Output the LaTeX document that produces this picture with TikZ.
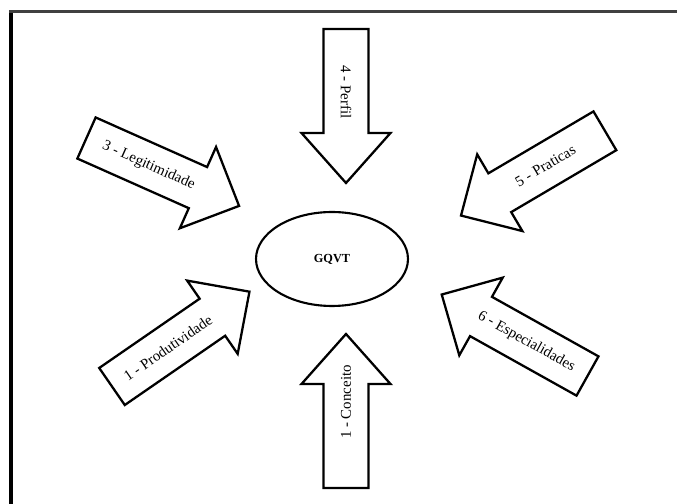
\documentclass[tikz,border=0pt]{standalone}
\usepackage{fontspec}
\setmainfont{Liberation Serif}
\usetikzlibrary{shapes.geometric}
\begin{document}
\begin{tikzpicture}[x=0.02cm,y=0.02cm,line join=miter,
    seta/.style={draw,line width=1.3pt},
    rotulo/.style={font=\fontsize{8.5}{10}\selectfont,inner sep=1pt}]
  \useasboundingbox (0,0) rectangle (677,504);
  % moldura
  \draw[line width=2pt] (10.8,0) -- (10.8,493);
  \draw[line width=1.5pt,black!75] (9,492.5) -- (677,492.5);
  % centro
  \node[draw,ellipse,line width=1.2pt,minimum width=3.04cm,minimum height=1.88cm,
    font=\bfseries\fontsize{7}{8}\selectfont] (gqvt) at (332,245) {GQVT};
  % setas
  \foreach \nome/\x/\y/\ang/\haste/\ponta/\pos/\tang/\txt in {
      perfil/346/475/-90/104/50/63/-90/{4 - Perfil},
      conceito/346/16/90/104/50/86/90/{1 - Conceito},
      legit/86.5/366/-24/122/45/68/-24/{3 - Legitimidade},
      prod/112/117.5/34.6/122/45/68/34.6/{1 - Produtividade},
      praticas/604.9/373.2/210.5/122/45/69/30.5/{5 - Praticas},
      espec/587.5/128/150.8/122/45/70/-29.2/{6 - Especialidades}}{
    \begin{scope}[shift={(\x,\y)},rotate=\ang]
      \draw[seta] (0,-22.5) -- (\haste,-22.5) -- (\haste,-44.5) -- ({\haste+\ponta},0)
        -- (\haste,44.5) -- (\haste,22.5) -- (0,22.5) -- cycle;
      \node[rotulo,rotate=\tang] (\nome) at (\pos,0) {\txt};
    \end{scope}
  }
\end{tikzpicture}
\end{document}
